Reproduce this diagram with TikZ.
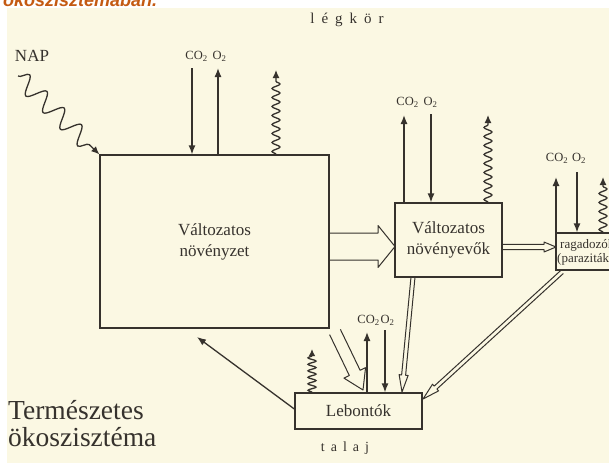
\documentclass[tikz,border=0pt]{standalone}
\usepackage{fontspec}
\setmainfont{Liberation Serif}
\newfontfamily\webfont{Liberation Sans}
\usetikzlibrary{arrows.meta,decorations.pathmorphing,calc}
\definecolor{paper}{HTML}{FBF8E3}
\definecolor{ink}{HTML}{36322D}
\definecolor{webor}{HTML}{C45A12}
\newcommand\hollowarr[6]{%
  \draw[#6] let \p1=(#1), \p2=(#2),
    \n1={atan2(\y2-\y1,\x2-\x1)}, \n2={veclen(\x2-\x1,\y2-\y1)} in
    [shift={(\p1)}, rotate=\n1]
    (0,#3) -- (\n2-#5,#3) -- (\n2-#5,#4) -- (\n2,0) -- (\n2-#5,-#4) -- (\n2-#5,-#3) -- (0,-#3);}
\tikzset{
  ln/.style={draw=ink, line width=1.3pt},
  thin ln/.style={draw=ink, line width=1pt, line join=round},
  box/.style={ln, inner sep=0pt, align=center, text=ink, font=\fontsize{17}{21}\selectfont},
  gas/.style={ln, -{Latex[length=9pt,width=7pt]}},
  wave/.style={ln, -{Latex[length=8pt,width=7pt]}, decorate,
    decoration={snake, amplitude=4pt, segment length=9pt, post length=7pt}},
  tightwave/.style={ln, -{Latex[length=7pt,width=6.5pt]}, decorate,
    decoration={snake, amplitude=4pt, segment length=6.5pt, post length=6pt}},
  lab/.style={text=ink, inner sep=0pt, font=\fontsize{12.5}{13}\selectfont},
  plain/.style={text=ink, inner sep=0pt},
}
\begin{document}
\begin{tikzpicture}[x=1pt,y=-1pt]
\useasboundingbox (0,0) rectangle (609,463);
\fill[white] (0,0) rectangle (609,463);
\fill[paper] (7,8) rectangle (609,463);

% heading cut by the top edge
\node[anchor=base west, inner sep=0pt, text=webor,
  font=\webfont\bfseries\itshape\fontsize{18}{20}\selectfont] (title) at (3,6) {ökoszisztémában.};

% texts
\node[plain, font=\fontsize{15}{17}\selectfont] (air) at (347,20) {l\hspace{7pt}é\hspace{7pt}g\hspace{7pt}k\hspace{7pt}ö\hspace{7pt}r};
\node[plain, font=\fontsize{14}{16}\selectfont] (soil) at (345,448) {t\hspace{6pt}a\hspace{6pt}l\hspace{6pt}a\hspace{6pt}j};
\node[plain, font=\fontsize{17}{19}\selectfont] (nap) at (32,56) {NAP};
\node[plain, anchor=base west, font=\fontsize{27.5}{29}\selectfont] (eco1) at (8,419) {Természetes};
\node[plain, anchor=base west, font=\fontsize{27.5}{29}\selectfont] (eco2) at (8,446) {ökoszisztéma};

% boxes
\node[box, minimum width=229pt, minimum height=173pt] (plants) at (214.5,241.5) {Változatos\\növényzet};
\node[box, minimum width=107pt, minimum height=74pt] (herb) at (448.5,240) {Változatos\\növényevők};
\node[box, minimum width=127pt, minimum height=36pt] (decomp) at (358.5,411) {Lebontók};
\node[ln, inner sep=0pt, minimum width=90pt, minimum height=37pt] (pred) at (601,251.5) {};
\node[plain, anchor=west, align=left, font=\fontsize{13}{14}\selectfont] (predtxt) at (557,252) {\hspace{3pt}ragadozók\\(paraziták)};

% sunlight
\coordinate (sun) at (18,76);
\draw[ln, -{Latex[length=8pt,width=7pt]}, decorate,
  decoration={snake, amplitude=9pt, segment length=24pt, post length=8pt}] (sun) -- (plants.north west);

% gas exchange: plants
\coordinate (a1) at (192,68);
\coordinate (a2) at (218,68);
\coordinate (a3) at (276,70);
\node[lab] (g1) at (206,56) {CO\textsubscript{2}\hspace{5pt}O\textsubscript{2}};
\draw[gas] (a1) -- (a1 |- plants.north);
\draw[gas] (a2 |- plants.north) -- (a2);
\draw[wave] (a3 |- plants.north) -- (a3);

% gas exchange: herbivores
\coordinate (b1) at (404,115);
\coordinate (b2) at (431,114);
\coordinate (b3) at (488,115);
\node[lab] (g2) at (417,102) {CO\textsubscript{2}\hspace{5pt}O\textsubscript{2}};
\draw[gas] (b1 |- herb.north) -- (b1);
\draw[gas] (b2) -- (b2 |- herb.north);
\draw[wave] (b3 |- herb.north) -- (b3);

% gas exchange: predators
\coordinate (c1) at (556,177);
\coordinate (c2) at (577,172);
\coordinate (c3) at (603,177);
\node[lab] (g3) at (566,158) {CO\textsubscript{2}\hspace{4pt}O\textsubscript{2}};
\draw[gas] (c1 |- pred.north) -- (c1);
\draw[gas] (c2) -- (c2 |- pred.north);
\draw[wave] (c3 |- pred.north) -- (c3);

% gas exchange: decomposers
\coordinate (d1) at (367,332);
\coordinate (d2) at (385,330);
\coordinate (d3) at (312,349);
\node[lab] (g4) at (376,320) {CO\textsubscript{2}\hspace{1pt}O\textsubscript{2}};
\draw[gas] (d1 |- decomp.north) -- (d1);
\draw[gas] (d2) -- (d2 |- decomp.north);
\draw[tightwave] (d3 |- decomp.north) -- (d3);

% decomposers back to plants
\coordinate (ret) at (197,337);
\draw[ln, -{Latex[length=9pt,width=7pt]}] ($(decomp.west)+(0,-2)$) -- (ret);

% hollow flow arrows
\coordinate (f1s) at (329,246.5);
\coordinate (f1e) at (395,246.5);
\hollowarr{f1s}{f1e}{13.5}{21}{17}{thin ln}
\coordinate (f2s) at (502,247);
\coordinate (f2e) at (556,247);
\hollowarr{f2s}{f2e}{2.6}{5}{12}{thin ln}
\coordinate (f3s) at (335,332);
\coordinate (f3e) at (363,390);
\hollowarr{f3s}{f3e}{6}{12}{19}{thin ln}
\coordinate (f4s) at (413,277);
\coordinate (f4e) at (402,392);
\hollowarr{f4s}{f4e}{2}{4.5}{17}{thin ln}
\coordinate (f5s) at (562,272);
\coordinate (f5e) at (423,399);
\hollowarr{f5s}{f5e}{2}{4.5}{17}{thin ln}
\end{tikzpicture}
\end{document}
